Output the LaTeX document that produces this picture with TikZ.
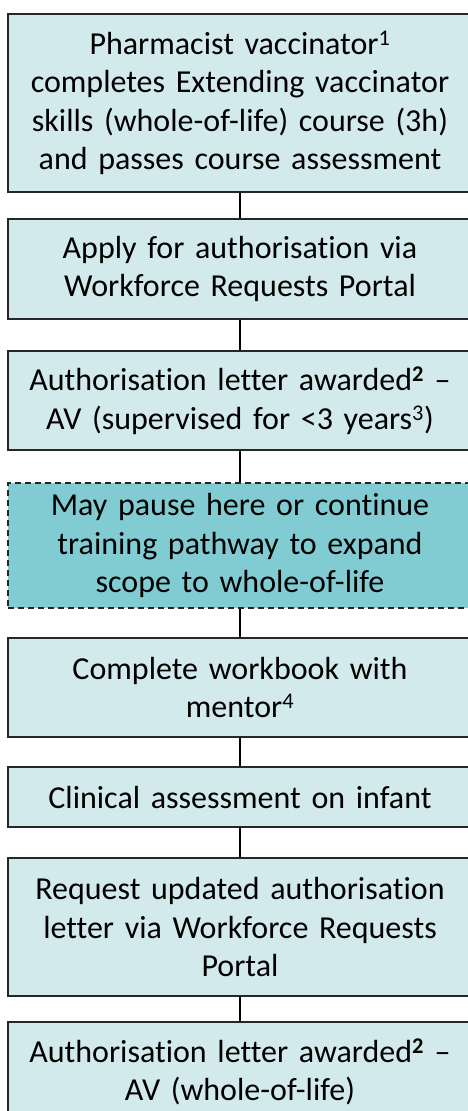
\documentclass[tikz,border=0pt]{standalone}
\usepackage{fontspec}
\setmainfont{Carlito}[Ligatures={NoCommon,NoContextual}]
\definecolor{boxfill}{RGB}{211,234,237}
\definecolor{pausefill}{RGB}{129,204,210}
\tikzset{
  stepbox/.style={draw=black!85, line width=1.6pt, fill=boxfill, minimum width=464pt,
    text width=446pt, align=center, inner sep=0pt, font=\fontsize{32}{38.5}\selectfont},
  pausebox/.style={stepbox, fill=pausefill, dash pattern=on 6pt off 4pt},
}

\begin{document}
\begin{tikzpicture}[x=1pt,y=1pt]
  \useasboundingbox (0,0) rectangle (468,-1111);

  \node[stepbox, minimum height=178pt] (a) at (240,-103) {Pharmacist vaccinator\textsuperscript{1}\\ completes Extending vaccinator\\ skills (whole-of-life) course (3h)\\ and passes course assessment};
  \node[stepbox, minimum height=100pt] (b) at (240,-269) {Apply for authorisation via\\ Workforce Requests Portal};
  \node[stepbox, minimum height=99pt] (c) at (240,-400.5) {Authorisation letter awarded\textsuperscript{\textbf{2}} --\\ AV (supervised for <3 years\textsuperscript{3})};
  \node[pausebox, minimum height=125pt] (d) at (240,-545.5) {May pause here or continue\\ training pathway to expand\\ scope to whole-of-life};
  \node[stepbox, minimum height=99pt] (e) at (240,-687.5) {Complete workbook with\\ mentor\textsuperscript{4}};
  \node[stepbox, minimum height=60pt] (f) at (240,-797) {Clinical assessment on infant};
  \node[stepbox, minimum height=138pt] (g) at (240,-927) {Request updated authorisation\\ letter via Workforce Requests\\ Portal};
  \node[stepbox, minimum height=100pt] (h) at (240,-1072) {Authorisation letter awarded\textsuperscript{\textbf{2}} --\\ AV (whole-of-life)};

  \draw[line width=1.6pt] (a) -- (b);
  \draw[line width=1.6pt] (b) -- (c);
  \draw[line width=1.6pt] (c) -- (d);
  \draw[line width=1.6pt] (d) -- (e);
  \draw[line width=1.6pt] (e) -- (f);
  \draw[line width=1.6pt] (f) -- (g);
  \draw[line width=1.6pt] (g) -- (h);
\end{tikzpicture}
\end{document}
